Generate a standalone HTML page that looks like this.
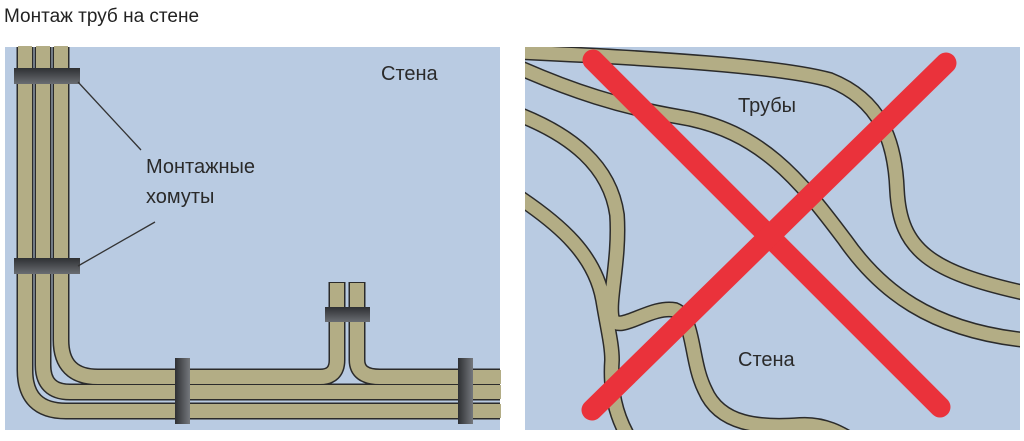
<!DOCTYPE html>
<html><head><meta charset="utf-8"><style>
body{margin:0;background:#fff;width:1024px;height:436px;overflow:hidden}
</style></head><body>
<svg width="1024" height="436" xmlns="http://www.w3.org/2000/svg" font-family="Liberation Sans, sans-serif">
<defs>
<linearGradient id="gv" x1="0" y1="0" x2="0" y2="1"><stop offset="0" stop-color="#2e3033"/><stop offset="1" stop-color="#6a6d72"/></linearGradient>
<linearGradient id="gh" x1="0" y1="0" x2="1" y2="0"><stop offset="0" stop-color="#2e3033"/><stop offset="1" stop-color="#75787d"/></linearGradient>
</defs>
<text x="4" y="22" font-size="19" fill="#222">Монтаж труб на стене</text>
<rect x="5" y="47" width="495" height="383" fill="#b9cbe2"/>
<rect x="525" y="47" width="495" height="383" fill="#b9cbe2"/>
<g fill="none" stroke-linecap="butt">
<g stroke="#2b2b2b" stroke-width="17">
<path d="M25,47 V370 Q25,411 66,411 H500"/>
<path d="M43,47 V365 Q43,392 70,392 H500"/>
<path d="M61,47 V340 Q61,377 98,377 H320 Q337,377 337,360 V282"/>
<path d="M357,282 V360 Q357,377 380,377 H500"/>
</g>
<g stroke="#b3ad85" stroke-width="14">
<path d="M25,46 V370 Q25,411 66,411 H501"/>
<path d="M43,46 V365 Q43,392 70,392 H501"/>
<path d="M61,46 V340 Q61,377 98,377 H320 Q337,377 337,360 V283"/>
<path d="M357,283 V360 Q357,377 380,377 H501"/>
</g>
</g>
<rect x="5" y="47" width="1" height="383" fill="#b9cbe2"/>
<rect x="14" y="68" width="66" height="16" fill="url(#gv)"/>
<rect x="14" y="258" width="66" height="16" fill="url(#gv)"/>
<rect x="325" y="307" width="45" height="15" fill="url(#gv)"/>
<rect x="175" y="358" width="15" height="66" fill="url(#gh)"/>
<rect x="458" y="358" width="15" height="66" fill="url(#gh)"/>
<line x1="78" y1="82" x2="141" y2="150" stroke="#333" stroke-width="1.3"/>
<line x1="78" y1="266" x2="155" y2="222" stroke="#333" stroke-width="1.3"/>
<text x="146" y="173" font-size="20" fill="#2a2a2a">Монтажные</text>
<text x="146" y="203" font-size="20" fill="#2a2a2a">хомуты</text>
<text x="381" y="80" font-size="20" fill="#2a2a2a">Стена</text>
<clipPath id="cp"><rect x="525" y="47" width="495" height="383"/></clipPath>
<g clip-path="url(#cp)" fill="none">
<g stroke="#2b2b2b" stroke-width="16">
<path d="M520,52 C650,58 780,66 830,80 C880,100 895,140 897,190 C900,250 930,272 1025,293"/>
<path d="M520,68 C570,90 620,107 680,117 C760,130 800,180 845,240 C880,290 930,330 1025,340"/>
<path d="M520,115 C570,135 610,165 617,215 C620,260 608,300 612,318 C618,335 650,305 675,310 C695,318 690,360 705,390 C720,425 760,428 800,425 C830,423 850,440 860,445"/>
<path d="M520,198 C560,225 595,255 603,300 C608,330 612,345 612,360 C610,390 615,415 630,440"/>
</g>
<g stroke="#b3ad85" stroke-width="13">
<path d="M520,52 C650,58 780,66 830,80 C880,100 895,140 897,190 C900,250 930,272 1025,293"/>
<path d="M520,68 C570,90 620,107 680,117 C760,130 800,180 845,240 C880,290 930,330 1025,340"/>
<path d="M520,115 C570,135 610,165 617,215 C620,260 608,300 612,318 C618,335 650,305 675,310 C695,318 690,360 705,390 C720,425 760,428 800,425 C830,423 850,440 860,445"/>
<path d="M520,198 C560,225 595,255 603,300 C608,330 612,345 612,360 C610,390 615,415 630,440"/>
</g>
</g>
<text x="738" y="112" font-size="20" fill="#2a2a2a">Трубы</text>
<text x="738" y="366" font-size="20" fill="#2a2a2a">Стена</text>
<g stroke="#ea323b" stroke-width="21" stroke-linecap="round">
<line x1="593" y1="60" x2="940" y2="407"/>
<line x1="946" y1="63" x2="592" y2="410"/>
</g>
</svg>
</body></html>
